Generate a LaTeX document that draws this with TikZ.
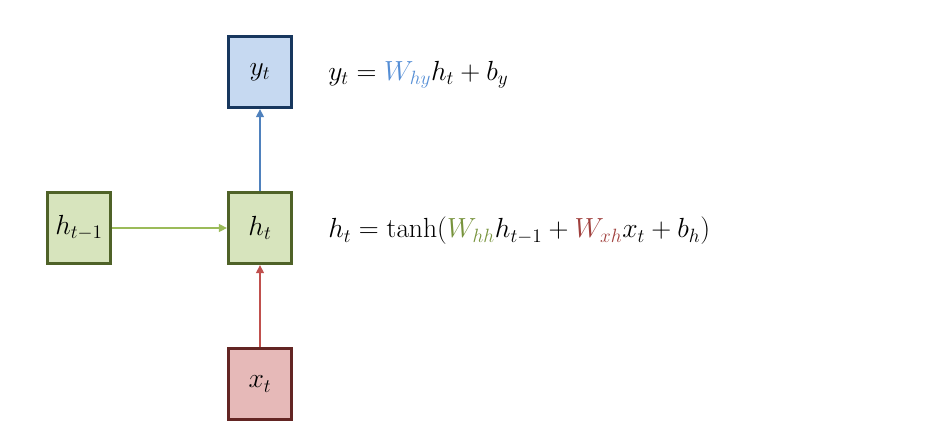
\documentclass[tikz,border=0pt]{standalone}
\usepackage{amsmath}
\usetikzlibrary{arrows.meta}
\definecolor{bfill}{HTML}{C6D9F1}
\definecolor{bdraw}{HTML}{17375E}
\definecolor{gfill}{HTML}{D7E4BD}
\definecolor{gdraw}{HTML}{4F6228}
\definecolor{rfill}{HTML}{E6B9B8}
\definecolor{rdraw}{HTML}{632523}
\definecolor{barr}{HTML}{4F81BD}
\definecolor{garr}{HTML}{9BBB59}
\definecolor{rarr}{HTML}{C0504D}
\definecolor{btxt}{HTML}{558ED5}
\definecolor{gtxt}{HTML}{77933C}
\definecolor{rtxt}{HTML}{A0403D}
\begin{document}
\begin{tikzpicture}[x=0.75pt,y=-0.75pt,
  cell/.style={rectangle,minimum width=47.5pt,minimum height=53.5pt,line width=2.2pt,inner sep=0pt,font=\fontsize{21.5}{26}\selectfont},
  bcell/.style={cell,fill=bfill,draw=bdraw},
  gcell/.style={cell,fill=gfill,draw=gdraw},
  rcell/.style={cell,fill=rfill,draw=rdraw},
  conn/.style={line width=0.9pt},
  eq/.style={anchor=west,inner sep=0pt,font=\fontsize{21}{25}\selectfont}]
\useasboundingbox (0,0) rectangle (930,437);
\node[bcell] (y) at (260,72) {$y_t$};
\node[gcell] (hp) at (79,228) {$h_{t-1}$};
\node[gcell] (h) at (260,228) {$h_t$};
\node[rcell] (x) at (260,384) {$x_t$};
\draw[conn,draw=barr,-{Triangle[length=6pt,width=6pt,fill=barr]}] (h.north) -- (y.south);
\draw[conn,draw=garr,-{Triangle[length=6pt,width=6pt,fill=garr]}] (hp.east) -- (h.west);
\draw[conn,draw=rarr,-{Triangle[length=6pt,width=6pt,fill=rarr]}] (x.north) -- (h.south);
\node[eq] (e1) at (328,75) {$y_t = {\color{btxt}W_{hy}}h_t + b_y$};
\node[eq] (e2) at (328,231) {$h_t = \tanh({\color{gtxt}W_{hh}}h_{t-1} + {\color{rtxt}W_{xh}}x_t + b_h)$};
\end{tikzpicture}
\end{document}
